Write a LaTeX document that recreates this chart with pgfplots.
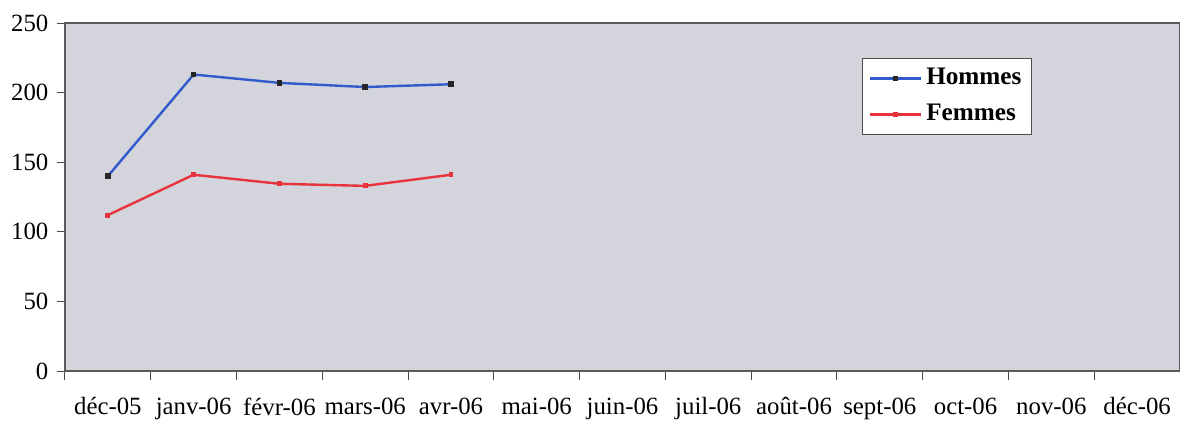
\documentclass[border=0pt]{standalone}
\usepackage{fontspec}
\setmainfont{Liberation Serif}
\usepackage{pgfplots}
\pgfplotsset{compat=1.18}

\definecolor{plotbg}{RGB}{211,212,220}
\definecolor{hommes}{RGB}{50,90,205}
\definecolor{femmes}{RGB}{232,50,60}

\begin{document}
\fontsize{12.4}{15}\selectfont
\begin{tikzpicture}
\begin{axis}[
    name=ax,
    scale only axis,
    width=557.5pt, height=174pt,
    xmin=-0.5, xmax=12.5,
    ymin=0, ymax=250,
    ytick={0,50,...,250},
    xtick={0,...,12},
    xticklabels={déc-05,janv-06,févr-06,mars-06,avr-06,mai-06,juin-06,juil-06,août-06,sept-06,oct-06,nov-06,déc-06},
    minor xtick={-0.5,0.5,...,12.5},
    major x tick style={draw=none},
    xtick pos=bottom, ytick pos=left,
    tick align=outside,
    major tick length=4pt,
    minor tick length=4.5pt,
    tick style={black!70, line width=0.5pt},
    x tick label style={yshift=-5pt},
    /pgf/number format/assume math mode=true,
    ticklabel style={font=\fontsize{12.4}{15}\selectfont},
    axis background/.style={fill=plotbg},
    axis line style={black!65, line width=0.6pt},
    legend style={at={(0.715,0.9)}, anchor=north west, draw=black!70,
        fill=white, font=\fontsize{12.6}{15}\selectfont\bfseries,
        row sep=4pt, inner xsep=3pt, inner ysep=3pt, cells={anchor=west}},
    legend image code/.code={
        \draw[#1] (0cm,0cm) -- (0.9cm,0cm);
        \draw[#1, only marks] plot coordinates {(0.45cm,0cm)};
    },
]
\addplot[color=hommes, line width=1.2pt, mark=square*, mark size=0.8pt,
    mark options={fill=black!85, draw=black!85}]
    coordinates {(0,140) (1,213) (2,207) (3,204) (4,206)};
\addlegendentry{Hommes}
\addplot[color=femmes, line width=1.2pt, mark=square*, mark size=0.6pt,
    mark options={fill=femmes, draw=femmes}]
    coordinates {(0,112) (1,141) (2,134.5) (3,133) (4,141)};
\addlegendentry{Femmes}
\end{axis}
\pgfresetboundingbox
\path[use as bounding box] ([xshift=-32.5pt,yshift=-24.5pt]ax.south west) rectangle ([yshift=11.5pt]ax.north east);
\end{tikzpicture}
\end{document}
